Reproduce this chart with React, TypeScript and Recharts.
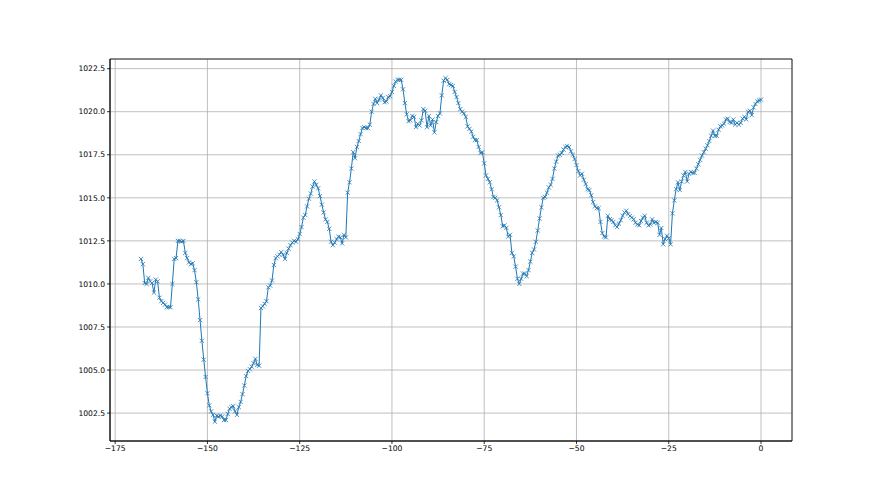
import React from "react";
import {
  LineChart,
  Line,
  XAxis,
  YAxis,
  CartesianGrid,
  ReferenceArea,
} from "recharts";

// hours relative to now, one reading every half hour
const startHour = -168;
const stepHours = 0.5;

const pressure = [
  1011.45, 1011.15, 1010.05, 1010.0, 1010.35, 1010.15, 1010.05, 1009.5, 1010.25, 1010.15,
  1009.2, 1009.0, 1008.9, 1008.8, 1008.65, 1008.65, 1008.65, 1010.0, 1011.45, 1011.5,
  1012.5, 1012.5, 1012.45, 1012.5, 1011.8, 1011.5, 1011.25, 1011.15, 1011.2, 1010.8,
  1010.1, 1009.1, 1007.9, 1006.7, 1005.6, 1004.6, 1003.65, 1002.95, 1002.6, 1002.4,
  1002.0, 1002.35, 1002.3, 1002.35, 1002.3, 1002.1, 1002.1, 1002.45, 1002.75, 1002.85,
  1002.9, 1002.6, 1002.4, 1002.85, 1003.15, 1003.6, 1004.1, 1004.65, 1004.95, 1005.05,
  1005.2, 1005.4, 1005.65, 1005.3, 1005.25, 1008.6, 1008.7, 1008.85, 1009.0, 1009.8,
  1009.9, 1010.2, 1011.1, 1011.5, 1011.6, 1011.7, 1011.85, 1011.7, 1011.45, 1011.8,
  1012.05, 1012.25, 1012.4, 1012.5, 1012.45, 1012.6, 1012.9, 1013.3, 1013.85, 1014.0,
  1014.5, 1014.95, 1015.25, 1015.65, 1015.95, 1015.75, 1015.55, 1015.1, 1014.6, 1014.15,
  1013.75, 1013.6, 1013.2, 1012.45, 1012.25, 1012.4, 1012.6, 1012.75, 1012.7, 1012.35,
  1012.85, 1012.7, 1015.3, 1015.9, 1016.7, 1017.65, 1017.3, 1017.95, 1018.3, 1018.7,
  1019.05, 1019.1, 1019.05, 1019.05, 1019.25, 1020.0, 1020.45, 1020.75, 1020.5, 1020.7,
  1020.95, 1020.8, 1020.55, 1020.6, 1020.85, 1020.9, 1021.15, 1021.5, 1021.75, 1021.85,
  1021.85, 1021.85, 1021.3, 1020.5, 1019.85, 1019.45, 1019.5, 1019.75, 1019.7, 1019.1,
  1019.3, 1019.2, 1019.5, 1020.15, 1020.05, 1019.1, 1019.75, 1019.2, 1019.55, 1018.8,
  1019.4, 1019.75, 1019.9, 1020.95, 1021.8, 1021.95, 1021.85, 1021.6, 1021.55, 1021.5,
  1021.15, 1020.85, 1020.5, 1020.15, 1020.0, 1019.9, 1019.7, 1019.15, 1019.0, 1018.85,
  1018.55, 1018.35, 1018.35, 1017.95, 1017.6, 1017.65, 1017.0, 1016.3, 1016.1, 1015.9,
  1015.5, 1015.05, 1015.0, 1014.85, 1014.45, 1014.0, 1013.35, 1013.4, 1013.25, 1012.75,
  1012.85, 1011.8, 1011.6, 1011.0, 1010.3, 1010.0, 1010.3, 1010.6, 1010.6, 1010.45,
  1010.8, 1011.3, 1011.8, 1012.0, 1012.45, 1013.1, 1013.8, 1014.45, 1015.0, 1015.05,
  1015.3, 1015.6, 1015.75, 1016.1, 1016.7, 1017.1, 1017.45, 1017.5, 1017.6, 1017.8,
  1017.95, 1018.0, 1017.95, 1017.7, 1017.5, 1017.25, 1016.9, 1016.55, 1016.3, 1016.4,
  1016.05, 1015.8, 1015.5, 1015.45, 1015.15, 1014.75, 1014.5, 1014.4, 1014.4, 1013.6,
  1012.95, 1012.75, 1012.7, 1013.95, 1013.75, 1013.7, 1013.6, 1013.4, 1013.3, 1013.5,
  1013.7, 1013.95, 1014.15, 1014.25, 1014.05, 1013.95, 1013.85, 1013.75, 1013.55, 1013.45,
  1013.4, 1013.65, 1013.85, 1013.95, 1013.55, 1013.4, 1013.45, 1013.75, 1013.55, 1013.6,
  1013.55, 1012.85, 1013.25, 1012.3, 1012.6, 1012.8, 1012.65, 1012.3, 1014.1, 1014.85,
  1015.5, 1015.9, 1015.45, 1015.95, 1016.3, 1016.5, 1015.95, 1016.4, 1016.5, 1016.45,
  1016.45, 1016.7, 1016.95, 1017.2, 1017.45, 1017.65, 1017.85, 1018.05, 1018.3, 1018.6,
  1018.9, 1018.6, 1018.6, 1018.95, 1019.15, 1019.2, 1019.3, 1019.55, 1019.6, 1019.4,
  1019.35, 1019.55, 1019.25, 1019.35, 1019.25, 1019.35, 1019.6, 1019.7, 1019.55, 1020.0,
  1020.05, 1019.8, 1020.25, 1020.45, 1020.6, 1020.65, 1020.7,
];

const xTicks = [-175, -150, -125, -100, -75, -50, -25, 0];
const yTicks = [1002.5, 1005, 1007.5, 1010, 1012.5, 1015, 1017.5, 1020, 1022.5];

const xDomain: [number, number] = [-176.4, 8.4];
const yDomain: [number, number] = [1000.88, 1023.06];

const data = pressure.map((p, i) => ({ hour: startHour + i * stepHours, pressure: p }));

const blue = "#1f77b4";
const tickStyle = { fill: "#000", fontSize: 7.6, fontFamily: "DejaVu Sans" };

const XMark = (props: any) => {
  const { cx, cy } = props;
  if (cx == null || cy == null) return null;
  const r = 2.1;
  return (
    <path
      d={`M${cx - r},${cy - r}L${cx + r},${cy + r}M${cx - r},${cy + r}L${cx + r},${cy - r}`}
      stroke={blue}
      strokeWidth={0.8}
      fill="none"
    />
  );
};

const minus = (v: number) => String(v).replace("-", "\u2212");

export default function App() {
  return (
    <div style={{ position: "absolute", left: 0, top: 0, width: 880, height: 495, background: "#fff" }}>
      <LineChart
        width={880}
        height={495}
        data={data}
        margin={{ top: 59, right: 88, bottom: 0, left: 0 }}
      >
        <CartesianGrid stroke="#b0b0b0" strokeWidth={0.8} />
        <XAxis
          dataKey="hour"
          type="number"
          domain={xDomain}
          ticks={xTicks}
          allowDataOverflow
          height={54}
          tick={tickStyle}
          tickFormatter={minus}
          tickSize={3}
          tickMargin={2}
          axisLine={{ stroke: "#000", strokeWidth: 0.8 }}
          tickLine={{ stroke: "#000", strokeWidth: 0.8 }}
        />
        <YAxis
          type="number"
          domain={yDomain}
          ticks={yTicks}
          allowDataOverflow
          width={110}
          tick={tickStyle}
          tickFormatter={(v: number) => v.toFixed(1)}
          tickSize={3}
          tickMargin={2}
          axisLine={{ stroke: "#000", strokeWidth: 0.8 }}
          tickLine={{ stroke: "#000", strokeWidth: 0.8 }}
        />
        <ReferenceArea
          x1={xDomain[0]}
          x2={xDomain[1]}
          y1={yDomain[0]}
          y2={yDomain[1]}
          fill="none"
          stroke="#000"
          strokeWidth={0.8}
          fillOpacity={0}
        />
        <Line
          type="linear"
          dataKey="pressure"
          stroke={blue}
          strokeWidth={1}
          dot={<XMark />}
          activeDot={false}
          isAnimationActive={false}
        />
      </LineChart>
    </div>
  );
}
